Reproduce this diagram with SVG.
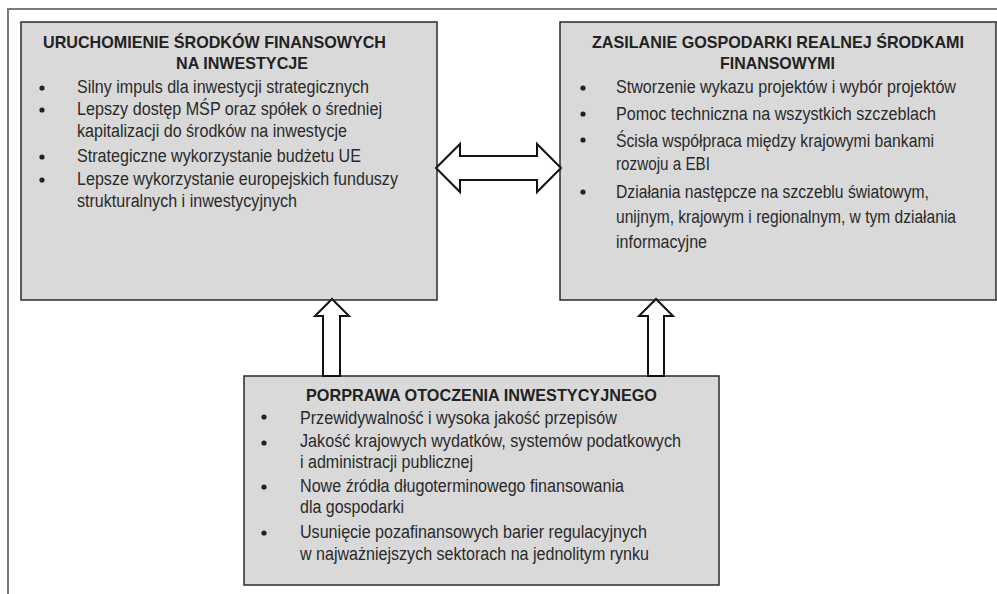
<svg xmlns="http://www.w3.org/2000/svg" width="997" height="594" viewBox="0 0 997 594">
<style>
.box{fill:#d9d9d9;stroke:#2a2a2a;stroke-width:1.5}
.t{font-family:"Liberation Sans",Arial,sans-serif;font-size:17px;fill:#222;font-weight:bold}
.b{font-family:"Liberation Sans",Arial,sans-serif;font-size:19px;fill:#2a2a2a}
.dot{fill:#222}
.arr{fill:#fff;stroke:#111;stroke-width:2;stroke-linejoin:miter}
</style>
<rect width="997" height="594" fill="#fff"/>
<path d="M8,594 V9 H997" fill="none" stroke="#7a7a7a" stroke-width="2"/>
<g id="node-uruchomienie">
<rect class="box" x="21" y="22" width="416" height="278"/>
<text class="t" x="43" y="48" textLength="343" lengthAdjust="spacingAndGlyphs">URUCHOMIENIE ŚRODKÓW FINANSOWYCH</text>
<text class="t" x="176" y="69" textLength="132" lengthAdjust="spacingAndGlyphs">NA INWESTYCJE</text>
<circle class="dot" cx="42" cy="88" r="2.6"/>
<circle class="dot" cx="42" cy="110" r="2.6"/>
<circle class="dot" cx="42" cy="157" r="2.6"/>
<circle class="dot" cx="42" cy="180" r="2.6"/>
<g transform="translate(77,0) scale(0.85,1)">
<text class="b" x="0" y="93" textLength="343.5" lengthAdjust="spacingAndGlyphs">Silny impuls dla inwestycji strategicznych</text>
<text class="b" x="0" y="115" textLength="358.8" lengthAdjust="spacingAndGlyphs">Lepszy dostęp MŚP oraz spółek o średniej</text>
<text class="b" x="0" y="137" textLength="317.6" lengthAdjust="spacingAndGlyphs">kapitalizacji do środków na inwestycje</text>
<text class="b" x="0" y="162" textLength="334.1" lengthAdjust="spacingAndGlyphs">Strategiczne wykorzystanie budżetu UE</text>
<text class="b" x="0" y="185" textLength="377.6" lengthAdjust="spacingAndGlyphs">Lepsze wykorzystanie europejskich funduszy</text>
<text class="b" x="0" y="207" textLength="258.8" lengthAdjust="spacingAndGlyphs">strukturalnych i inwestycyjnych</text>
</g>
</g>
<g id="node-zasilanie">
<rect class="box" x="560" y="22" width="436" height="278"/>
<text class="t" x="592" y="48" textLength="372" lengthAdjust="spacingAndGlyphs">ZASILANIE GOSPODARKI REALNEJ ŚRODKAMI</text>
<text class="t" x="720" y="69" textLength="115" lengthAdjust="spacingAndGlyphs">FINANSOWYMI</text>
<circle class="dot" cx="583" cy="88" r="2.6"/>
<circle class="dot" cx="583" cy="114" r="2.6"/>
<circle class="dot" cx="583" cy="140" r="2.6"/>
<circle class="dot" cx="583" cy="192" r="2.6"/>
<g transform="translate(616,0) scale(0.85,1)">
<text class="b" x="0" y="93" textLength="400" lengthAdjust="spacingAndGlyphs">Stworzenie wykazu projektów i wybór projektów</text>
<text class="b" x="0" y="120" textLength="376.5" lengthAdjust="spacingAndGlyphs">Pomoc techniczna na wszystkich szczeblach</text>
<text class="b" x="0" y="147" textLength="374.1" lengthAdjust="spacingAndGlyphs">Ścisła współpraca między krajowymi bankami</text>
<text class="b" x="0" y="170" textLength="110.6" lengthAdjust="spacingAndGlyphs">rozwoju a EBI</text>
<text class="b" x="0" y="198" textLength="368.2" lengthAdjust="spacingAndGlyphs">Działania następcze na szczeblu światowym,</text>
<text class="b" x="0" y="223" textLength="400" lengthAdjust="spacingAndGlyphs">unijnym, krajowym i regionalnym, w tym działania</text>
<text class="b" x="0" y="248" textLength="107.1" lengthAdjust="spacingAndGlyphs">informacyjne</text>
</g>
</g>
<g id="node-poprawa">
<rect class="box" x="244" y="376" width="475" height="209"/>
<text class="t" x="306" y="401" textLength="351" lengthAdjust="spacingAndGlyphs">PORPRAWA OTOCZENIA INWESTYCYJNEGO</text>
<circle class="dot" cx="264" cy="417" r="2.6"/>
<circle class="dot" cx="264" cy="443" r="2.6"/>
<circle class="dot" cx="264" cy="487" r="2.6"/>
<circle class="dot" cx="264" cy="533" r="2.6"/>
<g transform="translate(300,0) scale(0.85,1)">
<text class="b" x="0" y="424" textLength="372.9" lengthAdjust="spacingAndGlyphs">Przewidywalność i wysoka jakość przepisów</text>
<text class="b" x="0" y="447" textLength="448.2" lengthAdjust="spacingAndGlyphs">Jakość krajowych wydatków, systemów podatkowych</text>
<text class="b" x="0" y="468" textLength="203.5" lengthAdjust="spacingAndGlyphs">i administracji publicznej</text>
<text class="b" x="0" y="492" textLength="381.2" lengthAdjust="spacingAndGlyphs">Nowe źródła długoterminowego finansowania</text>
<text class="b" x="0" y="513" textLength="122.4" lengthAdjust="spacingAndGlyphs">dla gospodarki</text>
<text class="b" x="0" y="538" textLength="408.2" lengthAdjust="spacingAndGlyphs">Usunięcie pozafinansowych barier regulacyjnych</text>
<text class="b" x="0" y="560" textLength="410.6" lengthAdjust="spacingAndGlyphs">w najważniejszych sektorach na jednolitym rynku</text>
</g>
</g>
<g id="connectors">
<polygon class="arr" points="436,168 460,144 460,156 537,156 537,144 561,168 537,192 537,180 460,180 460,192"/>
<polygon class="arr" points="332,299 349,316 340,316 340,376 323,376 323,316 315,316"/>
<polygon class="arr" points="656,299 673,316 664,316 664,376 648,376 648,316 639,316"/>
</g>
</svg>
